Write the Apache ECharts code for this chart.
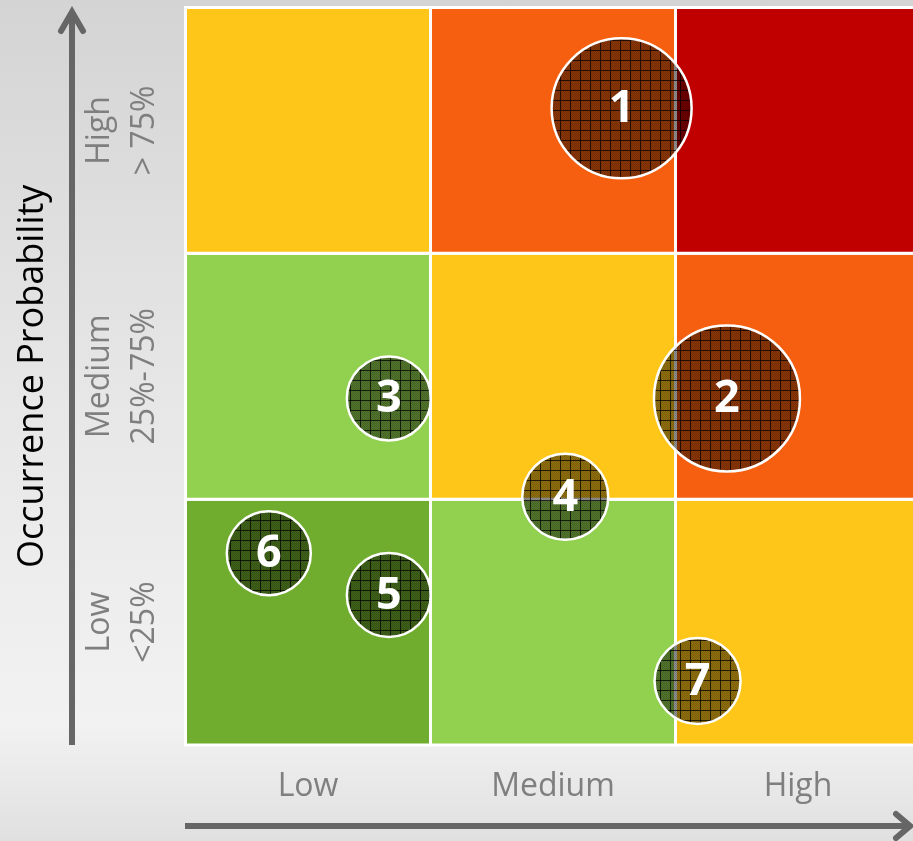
<!DOCTYPE html>
<html>
<head>
<meta charset="utf-8">
<script src="https://cdn.jsdelivr.net/npm/echarts@6/dist/echarts.min.js"></script>
<style>
  html, body { margin: 0; padding: 0; }
  body { width: 913px; height: 841px; background: linear-gradient(to bottom, #d4d4d4 0%, #e6e6e6 45%, #f2f2f2 86%, #e0e0e0 100%); }
  #chart { width: 913px; height: 841px; }
</style>
</head>
<body>
<div id="chart"></div>
<script>
// ---- data ----
const impactLabels = ['Low', 'Medium', 'High'];                       // x axis (left -> right)
const probabilityLabels = ['Low\n<25%', 'Medium\n25%-75%', 'High\n> 75%']; // y axis (bottom -> top)
const yAxisTitle = 'Occurrence Probability';

// risk level of each cell, rows from Low probability (bottom) to High (top), columns Low..High impact
const levelRowLow    = [0, 1, 2];
const levelRowMedium = [1, 2, 3];
const levelRowHigh   = [2, 3, 4];
const levelColors = ['#70AD2F', '#92D050', '#FFC61A', '#F55F0F', '#C00000'];

// risks (bubbles)
const riskIds         = ['1', '2', '3', '4', '5', '6', '7'];
const riskImpact      = [1.78, 2.21, 0.83, 1.55, 0.83, 0.34, 2.09];
const riskProbability = [2.59, 1.41, 1.41, 1.01, 0.61, 0.78, 0.26];
const riskSize        = [140, 146, 84, 86, 84, 84, 86];

// ---- build ----
const levelRows = [levelRowLow, levelRowMedium, levelRowHigh];
const cellData = [];
levelRows.forEach((row, yi) => row.forEach((lvl, xi) => cellData.push([xi, yi, lvl])));
const bubbleData = riskIds.map((id, i) => [riskImpact[i], riskProbability[i], riskSize[i], id]);

// hatched, semi-transparent fill for the bubbles
function makePattern() {
  const c = document.createElement('canvas');
  c.width = 10; c.height = 10;
  const g = c.getContext('2d');
  g.fillStyle = 'rgba(0,0,0,0.44)';
  g.fillRect(0, 0, 10, 10);
  g.fillStyle = 'rgba(0,0,0,0.14)';
  for (let i = 0; i < 10; i++) for (let j = 0; j < 10; j++) if ((i + j) % 2 === 0) g.fillRect(i, j, 1, 1);
  g.fillStyle = 'rgba(0,0,0,0.75)';
  g.fillRect(0, 0, 10, 1);
  g.fillRect(0, 0, 1, 10);
  return c;
}
const bubblePattern = makePattern();

const chart = echarts.init(document.getElementById('chart'), null, { renderer: 'canvas' });
const labelFont = '"Open Sans", "DejaVu Sans", sans-serif';

chart.setOption({
  backgroundColor: 'transparent',
  animation: false,
  grid: { left: 185.5, top: 7.5, right: -7.5, bottom: 96, outerBoundsMode: 'none', containLabel: false },
  xAxis: {
    type: 'value', min: 0, max: 3, interval: 0.5,
    axisLine: { show: false }, axisTick: { show: false }, splitLine: { show: false },
    axisLabel: {
      margin: 26,
      color: '#7f7f7f', fontSize: 32, fontFamily: labelFont,
      formatter: v => (Math.abs(v % 1 - 0.5) < 1e-6 ? impactLabels[Math.floor(v)] : '')
    }
  },
  yAxis: {
    type: 'value', min: 0, max: 3, interval: 0.5,
    name: yAxisTitle, nameLocation: 'middle', nameRotate: 90, nameGap: 135,
    nameTextStyle: { color: '#000000', fontSize: 36, fontFamily: labelFont },
    axisLine: { show: false }, axisTick: { show: false }, splitLine: { show: false },
    axisLabel: {
      rotate: 90, margin: 18.5,
      color: '#7f7f7f', fontSize: 32, lineHeight: 45, fontFamily: labelFont,
      formatter: v => (Math.abs(v % 1 - 0.5) < 1e-6 ? probabilityLabels[Math.floor(v)] : '')
    }
  },
  graphic: [
    { type: 'line', shape: { x1: 72, y1: 745, x2: 72, y2: 13 }, style: { stroke: '#666666', lineWidth: 6 } },
    { type: 'polyline', shape: { points: [[61, 31], [72, 12], [83, 31]] }, style: { stroke: '#666666', lineWidth: 6, lineCap: 'round', lineJoin: 'miter', fill: null } },
    { type: 'line', shape: { x1: 185, y1: 826, x2: 909, y2: 826 }, style: { stroke: '#666666', lineWidth: 6 } },
    { type: 'polyline', shape: { points: [[896, 814], [910, 826], [896, 838]] }, style: { stroke: '#666666', lineWidth: 6, lineCap: 'round', lineJoin: 'miter', fill: null } }
  ],
  series: [
    {
      type: 'custom',
      z: 1,
      data: cellData,
      silent: true,
      renderItem: (params, api) => {
        const x = api.value(0), y = api.value(1), lvl = api.value(2);
        const p0 = api.coord([x, y + 1]);
        const p1 = api.coord([x + 1, y]);
        return {
          type: 'rect',
          shape: { x: p0[0], y: p0[1], width: p1[0] - p0[0], height: p1[1] - p0[1] },
          style: { fill: levelColors[lvl], stroke: '#ffffff', lineWidth: 3 }
        };
      }
    },
    {
      type: 'custom',
      z: 5,
      data: bubbleData,
      silent: true,
      renderItem: (params, api) => {
        const c = api.coord([api.value(0), api.value(1)]);
        const r = api.value(2) / 2;
        const id = bubbleData[params.dataIndex][3];
        return {
          type: 'group',
          children: [
            {
              type: 'circle',
              shape: { cx: c[0], cy: c[1], r: r },
              style: { fill: { image: bubblePattern, repeat: 'repeat' }, stroke: '#ffffff', lineWidth: 2.5 }
            },
            {
              type: 'text',
              x: c[0], y: c[1] + 1,
              style: {
                text: id, fill: '#ffffff', fontSize: 45, fontWeight: 'bold', fontFamily: labelFont,
                align: 'center', verticalAlign: 'middle'
              }
            }
          ]
        };
      }
    }
  ]
});
</script>
</body>
</html>
